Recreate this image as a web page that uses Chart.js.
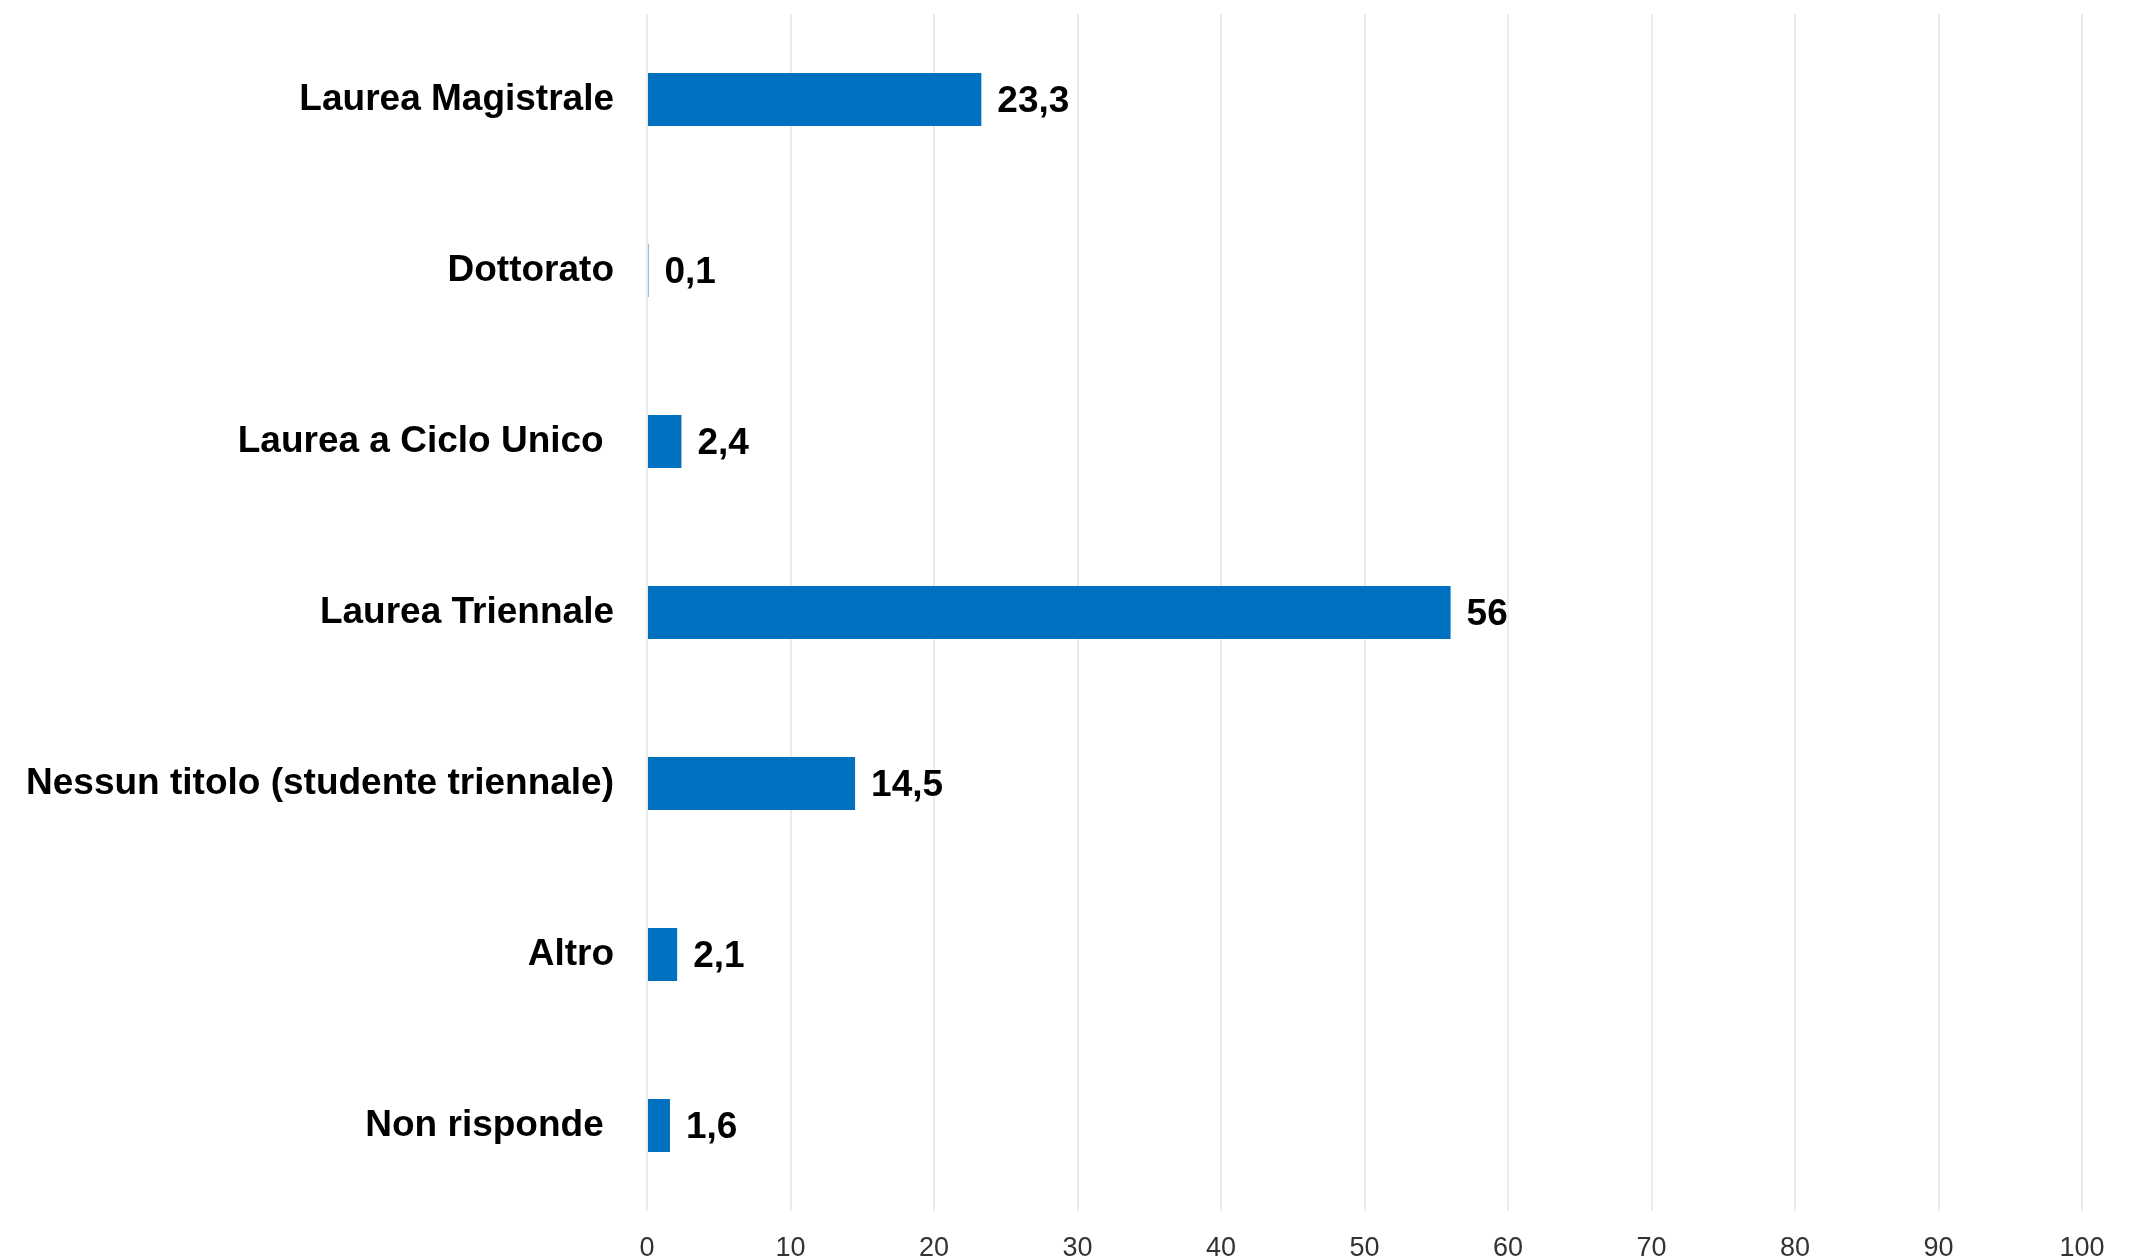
<!DOCTYPE html>
<html lang="it">
<head>
    <meta charset="UTF-8">
    <title>Titolo di studio</title>
    <script src="https://cdn.jsdelivr.net/npm/chart.js"></script>
    <style>
        body { margin: 0; background: #fff; }
        canvas { display: block; }
    </style>
</head>
<body>
    <canvas id="chart" width="2129" height="1259"></canvas>

    <script>
        const categories = [
            'Laurea Magistrale',
            'Dottorato',
            'Laurea a Ciclo Unico ',
            'Laurea Triennale',
            'Nessun titolo (studente triennale)',
            'Altro',
            'Non risponde '
        ];
        const values = [23.3, 0.1, 2.4, 56, 14.5, 2.1, 1.6];
        const xTicks = [0, 10, 20, 30, 40, 50, 60, 70, 80, 90, 100];

        const fontFamily = '"Liberation Sans", Arial, sans-serif';

        // value labels to the right of each bar, Italian decimal comma
        const valueLabels = {
            id: 'valueLabels',
            afterDatasetsDraw(chart) {
                const ctx = chart.ctx;
                const meta = chart.getDatasetMeta(0);
                ctx.save();
                ctx.font = 'bold 37px ' + fontFamily;
                ctx.fillStyle = '#000';
                ctx.textAlign = 'left';
                ctx.textBaseline = 'middle';
                meta.data.forEach((bar, i) => {
                    const text = String(values[i]).replace('.', ',');
                    ctx.fillText(text, bar.x + 16, bar.y + 2);
                });
                ctx.restore();
            }
        };

        new Chart(document.getElementById('chart').getContext('2d'), {
            type: 'bar',
            data: {
                labels: categories,
                datasets: [{
                    data: values,
                    backgroundColor: '#0070C0',
                    borderWidth: 0,
                    categoryPercentage: 0.62,
                    barPercentage: 0.5
                }]
            },
            options: {
                indexAxis: 'y',
                responsive: false,
                animation: false,
                layout: { padding: { top: 14, right: 47, left: 0, bottom: 0 } },
                plugins: {
                    legend: { display: false },
                    tooltip: { enabled: false }
                },
                scales: {
                    x: {
                        min: 0,
                        max: 100,
                        afterBuildTicks(scale) {
                            scale.ticks = xTicks.map(v => ({ value: v }));
                        },
                        afterFit(scale) { scale.height = 48; },
                        grid: { color: '#ebebeb', lineWidth: 2, drawTicks: false },
                        border: { display: false },
                        ticks: {
                            padding: 21,
                            color: '#333',
                            font: { family: fontFamily, size: 27 }
                        }
                    },
                    y: {
                        afterFit(scale) {
                            scale.width = 647;
                            // bars are offset in their bands, no extra room needed
                            scale.paddingTop = 0;
                            scale.paddingBottom = 0;
                        },
                        grid: { display: false, drawTicks: false },
                        border: { display: false },
                        ticks: {
                            padding: 33,
                            color: '#000',
                            font: { family: fontFamily, size: 37, weight: 'bold' }
                        }
                    }
                }
            },
            plugins: [valueLabels]
        });
    </script>
</body>
</html>
